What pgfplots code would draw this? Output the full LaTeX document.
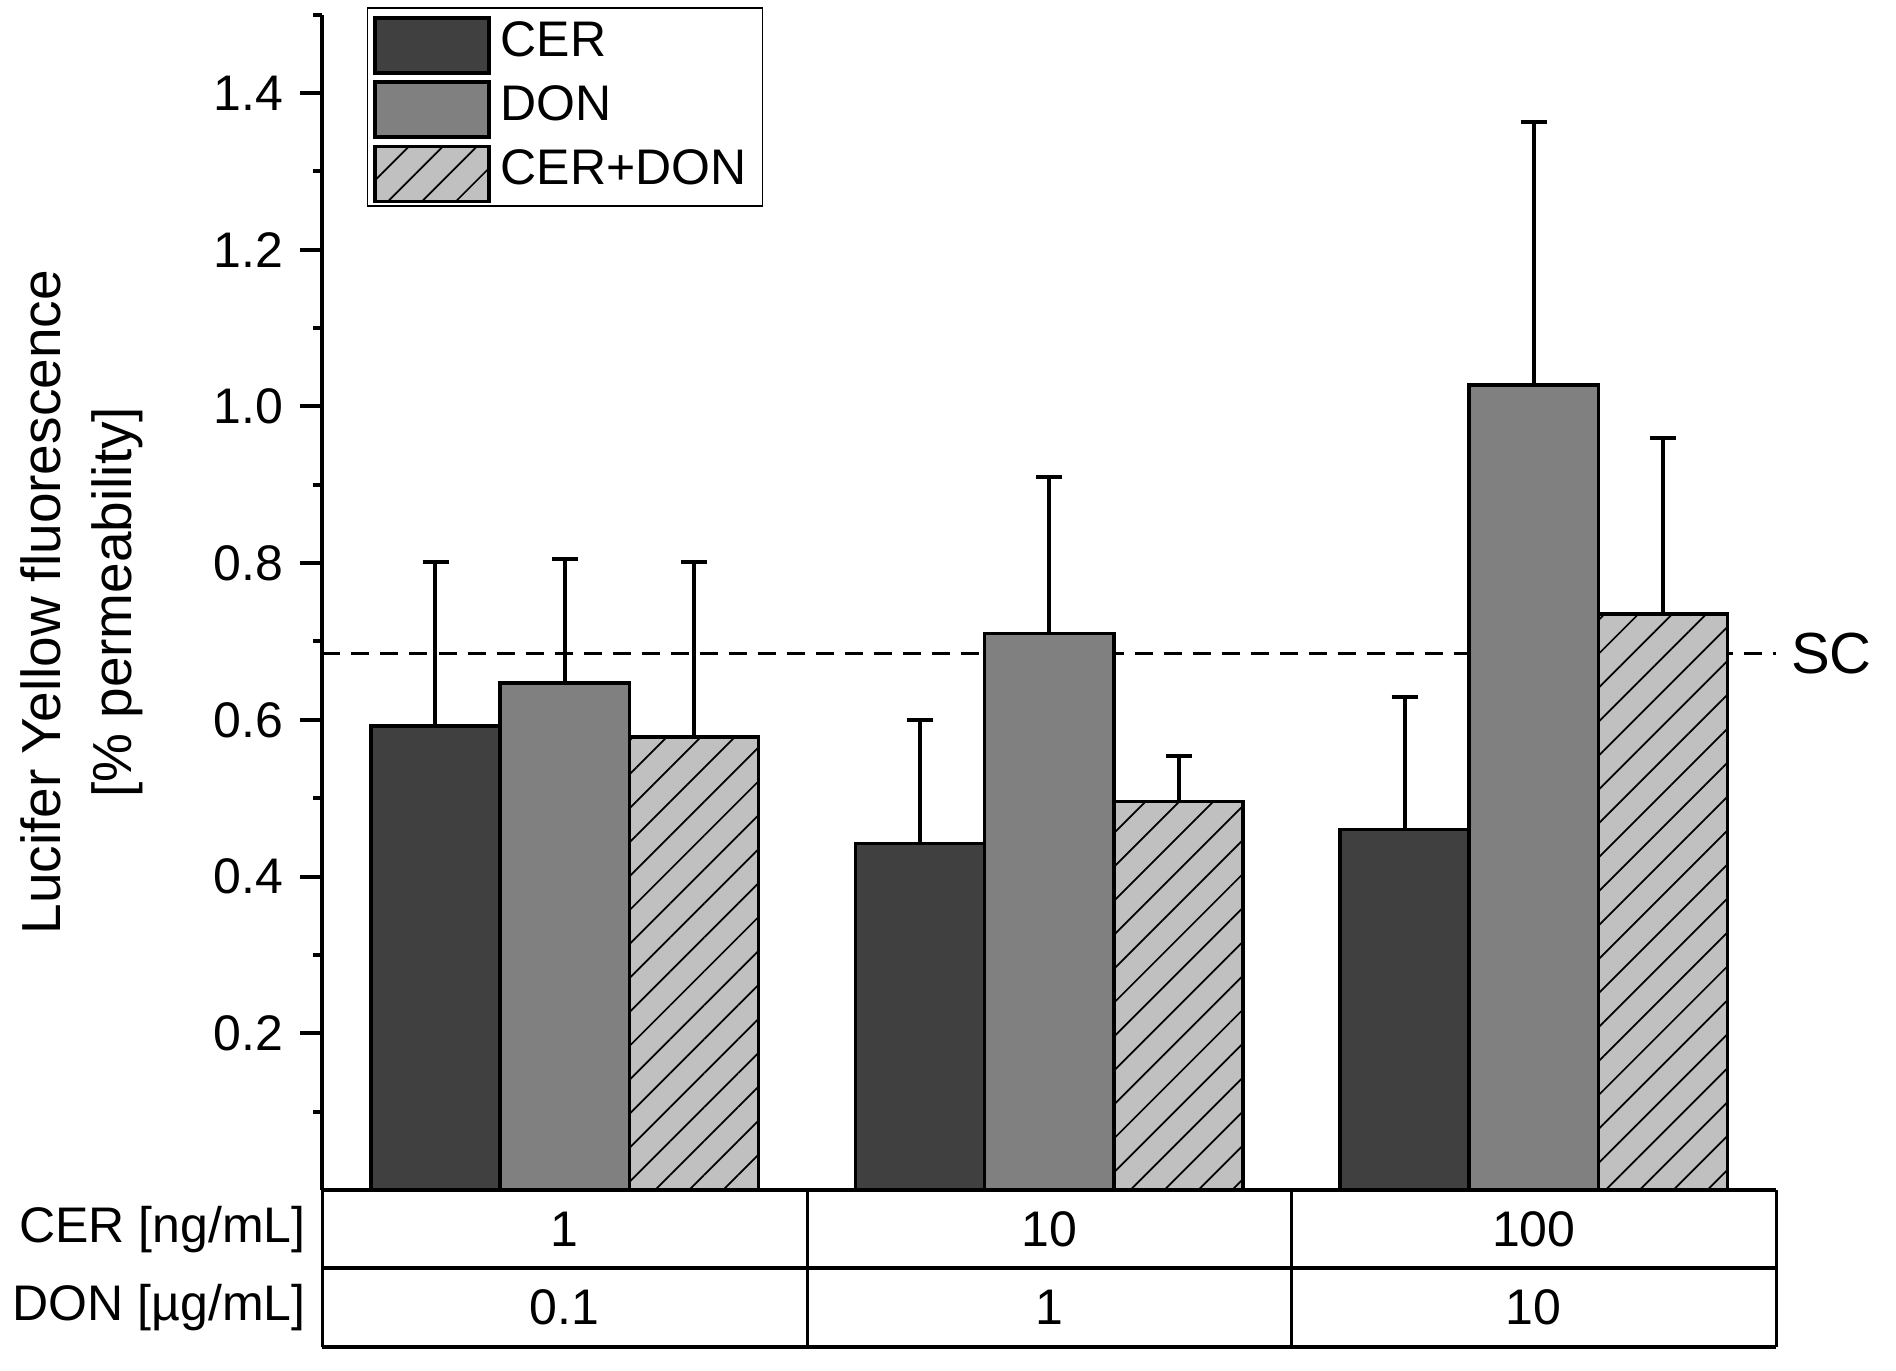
\documentclass[border=0pt]{standalone}
\usepackage{fontspec}
\setmainfont{Liberation Sans}
\usepackage{pgfplots}
\pgfplotsset{compat=1.18}
\usetikzlibrary{patterns.meta}

\definecolor{cerc}{HTML}{404040}
\definecolor{donc}{HTML}{808080}
\definecolor{mixc}{HTML}{C0C0C0}

\begin{document}
\begin{tikzpicture}
\begin{axis}[
  scale only axis,
  width=290.7pt, height=235.1pt,
  xmin=-0.5, xmax=2.5, ymin=0, ymax=1.5,
  enlargelimits=false,
  clip=false,
  axis x line=bottom, axis y line=left,
  axis line style={-, line width=0.8pt},
  xtick=\empty,
  ytick={0.2,0.4,...,1.41},
  minor ytick={0.1,0.3,...,1.51},
  tick align=outside,
  major tick length=4.4pt, minor tick length=1.8pt,
  every tick/.style={black, line width=0.8pt},
  yticklabel style={/pgf/number format/.cd, fixed, fixed zerofill, precision=1, assume math mode=true},
  tick label style={font=\fontsize{10}{12}\selectfont},
  ylabel={Lucifer Yellow fluorescence\\{[}\% permeability{]}},
  ylabel style={at={(axis description cs:-0.1231,0.5)}, anchor=south, inner sep=0pt,
    align=center, font=\fontsize{11}{14.2}\selectfont},
  ybar=0pt, bar width=25.85pt,
  legend style={at={(0.0303,1.006)}, anchor=north west, draw=black, line width=0.3pt,
    font=\fontsize{10}{12}\selectfont, inner xsep=1.2pt, inner ysep=0.6pt, row sep=0.15pt,
    cells={anchor=west}},
  legend image code/.code={\draw[#1, line width=0.7pt] (0pt,-6.1pt) rectangle (22.8pt,4.9pt);},
  error bars/y dir=plus, error bars/y explicit,
  error bars/error mark=-,
  error bars/error bar style={black, line width=0.8pt},
  error bars/error mark options={black, line width=0.8pt, mark size=2.6pt, rotate=90},
]
% solvent control level, behind the bars
\addplot[forget plot, sharp plot, black, line width=0.6pt, dash pattern=on 3.6pt off 2.2pt, bar shift=0pt]
  coordinates {(-0.5,0.685) (2.5,0.685)};

\addplot[draw=black, line width=0.7pt, fill=cerc] coordinates
  {(0,0.592) +- (0,0.210) (1,0.442) +- (0,0.158) (2,0.460) +- (0,0.169)};
\addplot[draw=black, line width=0.7pt, fill=donc] coordinates
  {(0,0.647) +- (0,0.158) (1,0.710) +- (0,0.200) (2,1.027) +- (0,0.336)};
\addplot[draw=black, line width=0.7pt, fill=mixc,
  postaction={pattern={Lines[angle=45, distance=4.8pt, line width=0.35pt]}}] coordinates
  {(0,0.578) +- (0,0.223) (1,0.496) +- (0,0.058) (2,0.735) +- (0,0.225)};
\legend{CER, DON, CER+DON}

\node[anchor=west, inner sep=0pt, font=\fontsize{11.6}{13}\selectfont, xshift=2.8pt]
  at (axis cs:2.5,0.685) {SC};

% concentration table under the axis
\draw[line width=0.6pt] (axis cs:-0.5,0) -- (axis cs:-0.5,-0.2)
  (axis cs:0.5,0) -- (axis cs:0.5,-0.2)
  (axis cs:1.5,0) -- (axis cs:1.5,-0.2)
  (axis cs:2.5,0) -- (axis cs:2.5,-0.2);
\draw[line width=0.8pt] (axis cs:-0.5,-0.1) -- (axis cs:2.5,-0.1)
  (axis cs:-0.5,-0.2) -- (axis cs:2.5,-0.2);
\begin{scope}[every node/.style={font=\fontsize{10}{12}\selectfont}]
\node at (axis cs:0,-0.05) {1};
\node at (axis cs:1,-0.05) {10};
\node at (axis cs:2,-0.05) {100};
\node at (axis cs:0,-0.15) {0.1};
\node at (axis cs:1,-0.15) {1};
\node at (axis cs:2,-0.15) {10};
\node[anchor=east, inner sep=0pt, xshift=-3.2pt] at (axis cs:-0.5,-0.05) {CER [ng/mL]};
\node[anchor=east, inner sep=0pt, xshift=-3.2pt] at (axis cs:-0.5,-0.15) {DON [µg/mL]};
\end{scope}
\coordinate (O) at (rel axis cs:0,0);
\end{axis}
\pgfresetboundingbox
\path ([xshift=-64.5pt,yshift=-36pt]O) rectangle ([xshift=314.7pt,yshift=238pt]O);
\end{tikzpicture}
\end{document}
